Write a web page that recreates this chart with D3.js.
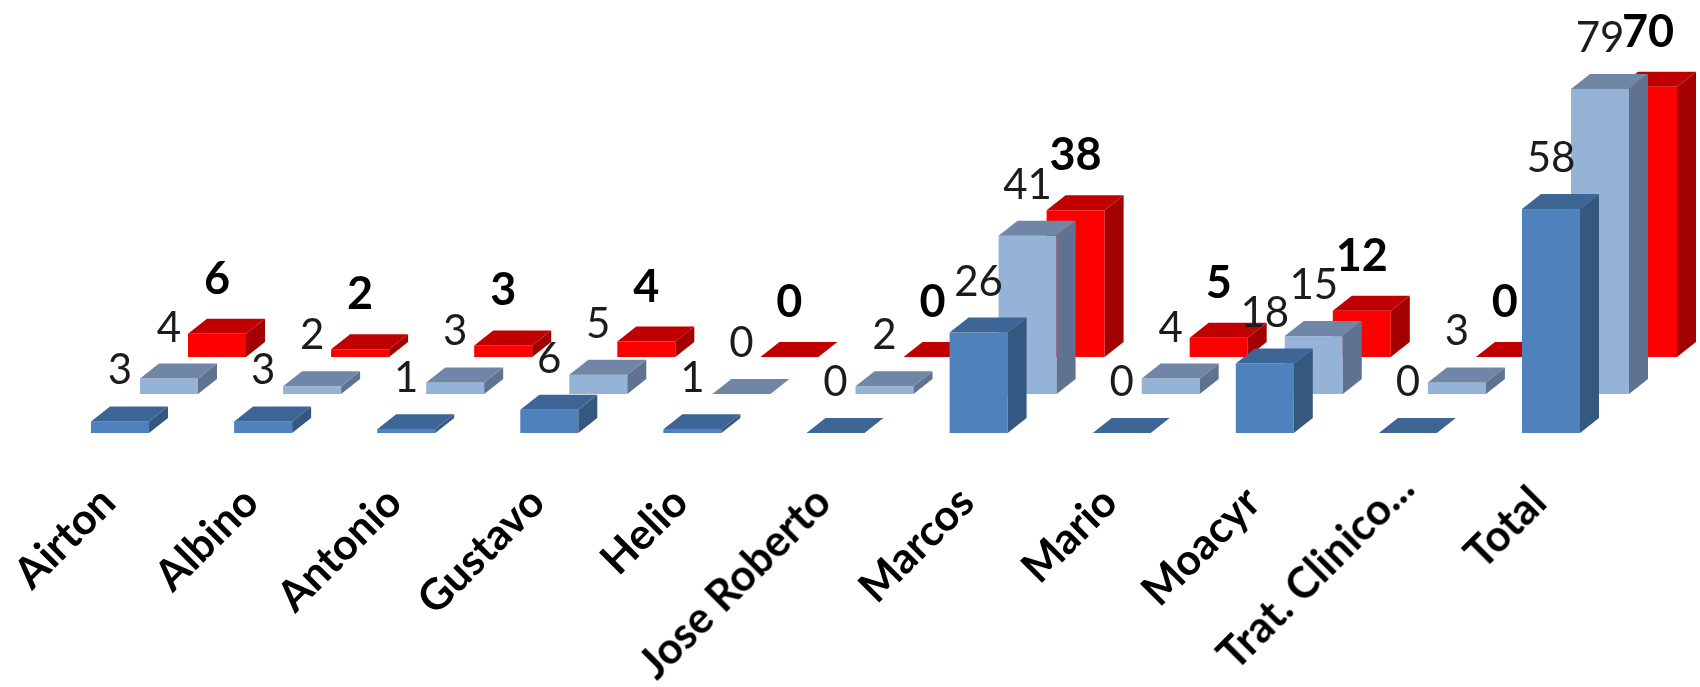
<!DOCTYPE html>
<html>
<head>
<meta charset="utf-8">
<script src="https://cdn.jsdelivr.net/npm/d3@7"></script>
<style>
  html, body { margin: 0; padding: 0; background: #fff; }
  svg { display: block; }
  text { font-family: Lato, "Open Sans", sans-serif; fill: #111; }
</style>
</head>
<body>
<div id="chart"></div>
<script>
// values
const categories = ["Airton", "Albino", "Antonio", "Gustavo", "Helio", "Jose Roberto", "Marcos", "Mario", "Moacyr", "Trat. Clinico...", "Total"];
const frontValues = [3, 3, 1, 6, 1, 0, 26, 0, 18, 0, 58];
const middleValues = [4, 2, 3, 5, 0, 2, 41, 4, 15, 3, 79];
const backValues = [6, 2, 3, 4, 0, 0, 38, 5, 12, 0, 70];

const width = 1700, height = 687;

const svg = d3.select("#chart").append("svg")
    .attr("width", width)
    .attr("height", height);

// the reference is a soft upscaled image, a small blur gets the same edges
svg.append("filter").attr("id", "soft")
    .append("feGaussianBlur").attr("stdDeviation", 0.7);

const chart = svg.append("g").attr("filter", "url(#soft)");

// group position along the floor
const x = d3.scaleBand()
    .domain(categories)
    .range([91, 91 + 143.1 * categories.length]);

// bar height
const h = d3.scaleLinear().domain([0, 79]).range([0, 305]);

const barWidth = 58, depthX = 19, depthY = 15;

// drawn back to front so the nearer rows cover the farther ones
const rows = [
    { name: "back", values: backValues, offset: 97, base: 357, front: "#ff0000", top: "#c00000", side: "#a30000", bold: true },
    { name: "middle", values: middleValues, offset: 49, base: 394, front: "#95b3d7", top: "#7086a6", side: "#5f7390", bold: false },
    { name: "front", values: frontValues, offset: 0, base: 433, front: "#4f81bd", top: "#3e6595", side: "#355981", bold: false }
];

rows.forEach(function (row) {
    const g = chart.append("g").attr("class", "row-" + row.name);

    const bars = g.selectAll("g")
        .data(row.values)
        .join("g")
        .attr("transform", function (d, i) {
            return "translate(" + (x(categories[i]) + row.offset) + "," + row.base + ")";
        });

    bars.append("rect")
        .attr("x", 0)
        .attr("y", function (d) { return -h(d); })
        .attr("width", barWidth)
        .attr("height", function (d) { return h(d); })
        .attr("fill", row.front);

    // right side face
    bars.append("path")
        .attr("fill", row.side)
        .attr("d", function (d) {
            const t = -h(d);
            return "M" + barWidth + ",0L" + (barWidth + depthX) + "," + (-depthY) +
                "L" + (barWidth + depthX) + "," + (t - depthY) + "L" + barWidth + "," + t + "Z";
        });

    // top face
    bars.append("path")
        .attr("fill", row.top)
        .attr("d", function (d) {
            const t = -h(d);
            return "M0," + t + "L" + depthX + "," + (t - depthY) +
                "L" + (barWidth + depthX) + "," + (t - depthY) + "L" + barWidth + "," + t + "Z";
        });
});

// data labels go on top of every bar
rows.slice().reverse().forEach(function (row) {
    chart.append("g").selectAll("text")
        .data(row.values)
        .join("text")
        .attr("x", function (d, i) { return x(categories[i]) + row.offset + barWidth / 2; })
        .attr("y", function (d) { return row.base - h(d) - (row.bold ? 40 : 37); })
        .attr("text-anchor", "middle")
        .attr("font-size", row.bold ? 45 : 42)
        .attr("font-weight", row.bold ? 700 : 400)
        .style("fill", row.bold ? "#000" : "#1a1a1a")
        .text(function (d) { return d; });
});

// category labels, rotated and anchored at their end
// the long truncated label sits a little higher in the reference
chart.append("g").selectAll("text")
    .data(categories)
    .join("text")
    .attr("text-anchor", "end")
    .attr("font-size", 43)
    .attr("font-weight", 700)
    .style("fill", "#000")
    .attr("transform", function (d) {
        const long = d == "Trat. Clinico...";
        return "translate(" + (x(d) + (long ? 38 : 27)) + "," + (long ? 491 : 505) + ") rotate(-45)";
    })
    .text(function (d) { return d; });
</script>
</body>
</html>
